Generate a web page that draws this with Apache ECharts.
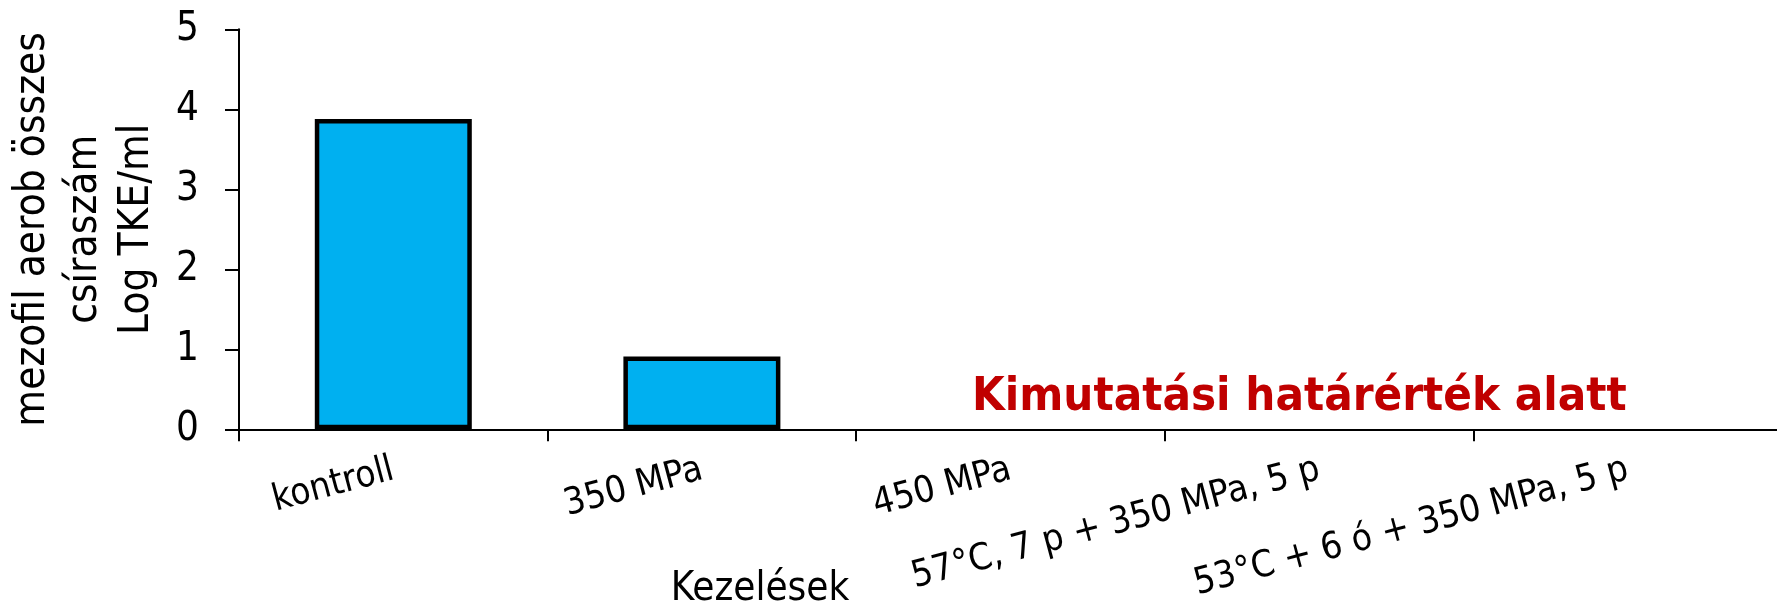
<!DOCTYPE html>
<html>
<head>
<meta charset="utf-8">
<script src="https://cdn.jsdelivr.net/npm/echarts@6/dist/echarts.min.js"></script>
<style>
  html, body { margin: 0; padding: 0; background: #fff; }
  #chart { width: 1777px; height: 608px; }
</style>
</head>
<body>
<div id="chart"></div>
<script>
// Treatments (Kezelések) on the category axis
const categories = [
  'kontroll',
  '350 MPa',
  '450 MPa',
  '57°C, 7 p + 350 MPa, 5 p',
  '53°C + 6 ó + 350 MPa, 5 p'
];
// Mesophilic aerobic total count, Log TKE/ml; null = below detection limit (no bar)
const logCounts = [3.88, 0.91, null, null, null];
// Value-axis ticks
const yMin = 0;
const yMax = 5;
const yStep = 1;
// Axis titles and note
const yAxisTitle = ['mezofil aerob összes', 'csíraszám', 'Log TKE/ml'];
const xAxisTitle = 'Kezelések';
const noteText = 'Kimutatási határérték alatt';

const FONT = "'DejaVu Sans Condensed', 'DejaVu Sans', sans-serif";
const chart = echarts.init(document.getElementById('chart'), null, { renderer: 'canvas' });
const W = chart.getWidth();

const grid = { left: 239, right: -5, top: 29.3, bottom: 178.7 };
const plotW = W - grid.left - grid.right;

// Axis title sits left of the axis middle
const titleCenterX = 760;
const axisMidX = grid.left + plotW / 2;
const titlePadRight = 2 * (axisMidX - titleCenterX);

chart.setOption({
  animation: false,
  backgroundColor: '#fff',
  grid: Object.assign({ containLabel: false, outerBoundsMode: 'none' }, grid),
  xAxis: {
    type: 'category',
    data: categories,
    boundaryGap: true,
    axisLine: { show: true, lineStyle: { color: '#000', width: 2 } },
    axisTick: { show: true, length: 12, lineStyle: { color: '#000', width: 2 } },
    axisLabel: {
      interval: 0,
      rotate: 15,
      margin: 40,
      fontSize: 37,
      fontFamily: FONT,
      color: '#000'
    },
    splitLine: { show: false },
    name: xAxisTitle,
    nameLocation: 'middle',
    nameGap: 140,
    nameMoveOverlap: false,
    nameTextStyle: {
      fontSize: 40,
      lineHeight: 40,
      fontFamily: FONT,
      color: '#000',
      padding: [0, titlePadRight, 0, 0]
    }
  },
  yAxis: {
    type: 'value',
    min: yMin,
    max: yMax,
    interval: yStep,
    axisLine: { show: true, lineStyle: { color: '#000', width: 2 } },
    axisTick: { show: true, length: 14, lineStyle: { color: '#000', width: 2 } },
    splitLine: { show: false },
    axisLabel: { margin: 40, fontSize: 40, fontFamily: FONT, color: '#000' },
    name: yAxisTitle.join('\n'),
    nameLocation: 'middle',
    nameRotate: 90,
    nameGap: 76,
    nameMoveOverlap: false,
    nameTextStyle: { fontSize: 42, lineHeight: 52, fontFamily: FONT, color: '#000' }
  },
  graphic: [{
    type: 'text',
    x: 972,
    y: 398,
    silent: true,
    style: {
      text: noteText,
      fill: '#C00000',
      fontSize: 47,
      fontWeight: 'bold',
      fontFamily: FONT,
      align: 'left',
      verticalAlign: 'middle'
    }
  }],
  series: [{
    type: 'bar',
    data: logCounts,
    barWidth: 157,
    silent: true,
    itemStyle: { color: '#00B0F0', borderColor: '#000', borderWidth: 4.5 }
  }]
});
</script>
</body>
</html>
